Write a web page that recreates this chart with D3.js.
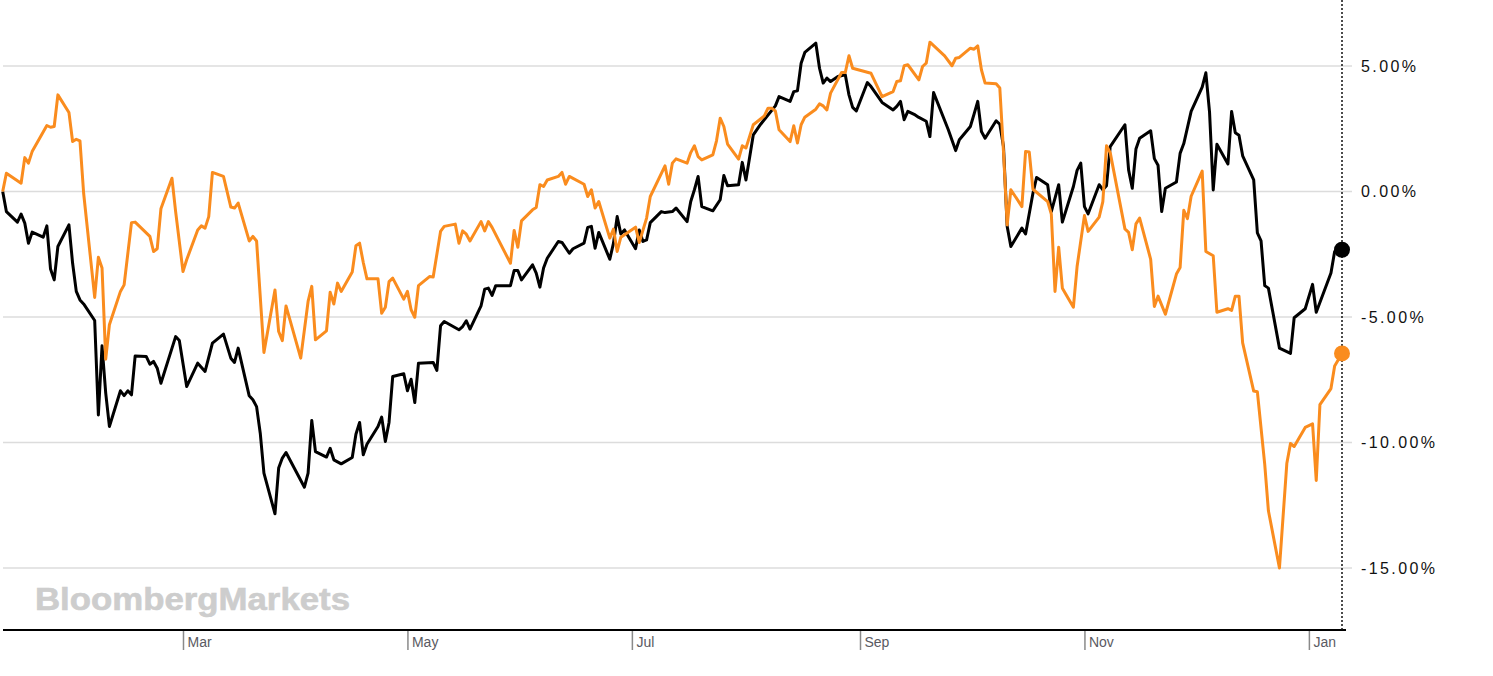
<!DOCTYPE html>
<html>
<head>
<meta charset="utf-8">
<script src="https://cdn.jsdelivr.net/npm/d3@7"></script>
<style>
  body { margin: 0; background: #fff; }
  svg { display: block; }
</style>
</head>
<body>
<svg id="chart"></svg>
<script>
// daily % change since start
const blackSeries = [
  ["2018-01-11",0],["2018-01-12",-0.8],["2018-01-15",-1.22],["2018-01-16",-0.9],["2018-01-17",-1.26],
  ["2018-01-18",-2.06],["2018-01-19",-1.62],["2018-01-22",-1.82],["2018-01-23",-1.37],["2018-01-24",-3.09],
  ["2018-01-25",-3.52],["2018-01-26",-2.19],["2018-01-29",-1.33],["2018-01-30",-2.86],["2018-01-31",-3.98],
  ["2018-02-01",-4.32],["2018-02-02",-4.48],["2018-02-05",-5.14],["2018-02-06",-8.9],["2018-02-07",-6.15],
  ["2018-02-08",-8.03],["2018-02-09",-9.36],["2018-02-12",-7.94],["2018-02-13",-8.13],["2018-02-14",-7.94],
  ["2018-02-15",-8.1],["2018-02-16",-6.55],["2018-02-19",-6.57],["2018-02-20",-6.88],["2018-02-21",-6.77],
  ["2018-02-22",-7.04],["2018-02-23",-7.64],["2018-02-27",-5.78],["2018-02-28",-5.94],["2018-03-02",-7.77],
  ["2018-03-05",-6.84],["2018-03-07",-7.17],["2018-03-09",-6.04],["2018-03-12",-5.68],["2018-03-14",-6.64],
  ["2018-03-15",-6.81],["2018-03-16",-6.24],["2018-03-19",-8.14],["2018-03-20",-8.3],["2018-03-21",-8.57],
  ["2018-03-22",-9.63],["2018-03-23",-11.22],["2018-03-26",-12.84],["2018-03-27",-11.02],["2018-03-28",-10.62],
  ["2018-03-29",-10.4],["2018-04-03",-11.78],["2018-04-04",-11.22],["2018-04-05",-9.12],["2018-04-06",-10.36],
  ["2018-04-09",-10.58],["2018-04-10",-10.23],["2018-04-11",-10.69],["2018-04-13",-10.85],["2018-04-16",-10.6],
  ["2018-04-17",-9.67],["2018-04-18",-9.2],["2018-04-19",-10.49],["2018-04-20",-10.07],["2018-04-23",-9.36],
  ["2018-04-24",-8.99],["2018-04-25",-9.96],["2018-04-26",-9.2],["2018-04-27",-7.37],["2018-04-30",-7.26],
  ["2018-05-01",-7.94],["2018-05-02",-7.48],["2018-05-03",-8.41],["2018-05-04",-6.84],["2018-05-08",-6.81],
  ["2018-05-09",-7.13],["2018-05-10",-5.35],["2018-05-11",-5.18],["2018-05-15",-5.51],["2018-05-16",-5.38],
  ["2018-05-17",-5.15],["2018-05-18",-5.48],["2018-05-21",-4.56],["2018-05-22",-3.89],["2018-05-23",-3.85],
  ["2018-05-24",-4.14],["2018-05-25",-3.75],["2018-05-29",-3.75],["2018-05-30",-3.15],["2018-05-31",-3.15],
  ["2018-06-01",-3.52],["2018-06-04",-2.92],["2018-06-05",-3.25],["2018-06-06",-3.81],["2018-06-07",-3.05],
  ["2018-06-08",-2.66],["2018-06-11",-1.99],["2018-06-12",-2.03],["2018-06-14",-2.46],["2018-06-15",-2.28],
  ["2018-06-18",-2.06],["2018-06-19",-1.43],["2018-06-20",-1.39],["2018-06-21",-2.26],["2018-06-22",-1.63],
  ["2018-06-25",-2.7],["2018-06-26",-2.06],["2018-06-27",-1.0],["2018-06-28",-1.69],["2018-06-29",-1.53],
  ["2018-07-02",-2.28],["2018-07-03",-1.53],["2018-07-04",-1.99],["2018-07-05",-1.93],["2018-07-06",-1.24],
  ["2018-07-09",-0.8],["2018-07-10",-0.84],["2018-07-12",-0.8],["2018-07-13",-0.66],["2018-07-16",-1.2],
  ["2018-07-17",-0.4],["2018-07-18",0.07],["2018-07-19",0.6],["2018-07-20",-0.6],["2018-07-23",-0.77],
  ["2018-07-25",-0.33],["2018-07-26",0.64],["2018-07-27",0.23],["2018-07-30",0.27],["2018-07-31",1.16],
  ["2018-08-01",0.46],["2018-08-03",2.26],["2018-08-05",2.68],["2018-08-07",3.05],["2018-08-09",3.41],
  ["2018-08-10",3.78],["2018-08-13",3.59],["2018-08-14",3.98],["2018-08-15",4.01],["2018-08-16",5.11],
  ["2018-08-17",5.54],["2018-08-20",5.91],["2018-08-21",4.91],["2018-08-22",4.32],["2018-08-23",4.52],
  ["2018-08-24",4.38],["2018-08-26",4.58],["2018-08-28",4.65],["2018-08-29",3.85],["2018-08-30",3.35],
  ["2018-08-31",3.21],["2018-09-03",4.34],["2018-09-04",4.18],["2018-09-07",3.55],["2018-09-10",3.25],
  ["2018-09-11",3.39],["2018-09-12",3.59],["2018-09-13",2.86],["2018-09-14",3.19],["2018-09-16",3.05],
  ["2018-09-17",2.95],["2018-09-19",2.8],["2018-09-20",2.19],["2018-09-21",3.94],["2018-09-25",2.46],
  ["2018-09-27",1.63],["2018-09-28",2.06],["2018-10-01",2.59],["2018-10-02",3.08],["2018-10-03",3.59],
  ["2018-10-04",2.39],["2018-10-05",2.12],["2018-10-08",2.82],["2018-10-09",2.68],["2018-10-10",1.79],
  ["2018-10-11",-1.39],["2018-10-12",-2.19],["2018-10-15",-1.46],["2018-10-16",-1.69],["2018-10-18",-0.07],
  ["2018-10-19",0.56],["2018-10-22",0.27],["2018-10-23",-0.8],["2018-10-25",0.27],["2018-10-26",-1.22],
  ["2018-10-29",0.2],["2018-10-30",0.84],["2018-10-31",1.13],["2018-11-01",-0.6],["2018-11-02",-0.89],
  ["2018-11-05",0.27],["2018-11-06",0.07],["2018-11-07",0.23],["2018-11-08",1.79],["2018-11-12",2.66],
  ["2018-11-13",0.86],["2018-11-14",0.13],["2018-11-15",1.69],["2018-11-16",2.12],["2018-11-19",2.42],
  ["2018-11-20",1.31],["2018-11-21",1.05],["2018-11-22",-0.8],["2018-11-23",0.13],["2018-11-26",0.38],
  ["2018-11-27",1.52],["2018-11-28",1.91],["2018-11-30",3.19],["2018-12-03",4.16],["2018-12-04",4.73],
  ["2018-12-05",3.16],["2018-12-06",0.06],["2018-12-07",1.88],["2018-12-10",1.1],["2018-12-11",3.19],
  ["2018-12-12",2.34],["2018-12-13",2.24],["2018-12-14",1.42],["2018-12-17",0.46],["2018-12-18",-1.65],
  ["2018-12-19",-1.97],["2018-12-20",-3.75],["2018-12-21",-3.85],["2018-12-24",-6.24],["2018-12-27",-6.45],
  ["2018-12-28",-5.03],["2018-12-31",-4.67],["2019-01-02",-3.7],["2019-01-03",-4.81],["2019-01-07",-3.25],
  ["2019-01-08",-2.39],["2019-01-10",-2.32]
];

const orangeSeries = [
  ["2018-01-11",0],["2018-01-12",0.73],["2018-01-16",0.33],["2018-01-17",1.35],["2018-01-18",1.13],
  ["2018-01-19",1.59],["2018-01-23",2.63],["2018-01-24",2.56],["2018-01-25",2.59],["2018-01-26",3.85],
  ["2018-01-29",3.15],["2018-01-30",1.99],["2018-01-31",2.08],["2018-02-01",2.02],["2018-02-02",-0.07],
  ["2018-02-05",-4.22],["2018-02-06",-2.62],["2018-02-07",-3.05],["2018-02-08",-6.68],["2018-02-09",-5.31],
  ["2018-02-12",-3.98],["2018-02-13",-3.72],["2018-02-15",-1.24],["2018-02-16",-1.22],["2018-02-20",-1.79],
  ["2018-02-21",-2.39],["2018-02-22",-2.28],["2018-02-23",-0.69],["2018-02-26",0.53],["2018-02-27",-0.8],
  ["2018-03-01",-3.19],["2018-03-02",-2.72],["2018-03-05",-1.53],["2018-03-06",-1.37],["2018-03-07",-1.46],
  ["2018-03-08",-1.0],["2018-03-09",0.76],["2018-03-12",0.6],["2018-03-14",-0.62],["2018-03-15",-0.66],
  ["2018-03-16",-0.46],["2018-03-19",-1.97],["2018-03-20",-1.79],["2018-03-21",-1.97],["2018-03-23",-6.41],
  ["2018-03-26",-3.92],["2018-03-27",-5.58],["2018-03-28",-5.94],["2018-03-29",-4.56],["2018-04-02",-6.64],
  ["2018-04-04",-4.38],["2018-04-05",-3.78],["2018-04-06",-5.91],["2018-04-09",-5.55],["2018-04-10",-4.01],
  ["2018-04-11",-4.48],["2018-04-12",-3.65],["2018-04-13",-3.98],["2018-04-16",-3.21],["2018-04-17",-2.16],
  ["2018-04-18",-2.06],["2018-04-19",-2.83],["2018-04-20",-3.48],["2018-04-23",-3.48],["2018-04-24",-4.85],
  ["2018-04-25",-4.61],["2018-04-26",-3.59],["2018-04-27",-3.45],["2018-04-30",-4.29],["2018-05-01",-3.98],
  ["2018-05-02",-4.71],["2018-05-03",-5.01],["2018-05-04",-3.75],["2018-05-07",-3.39],["2018-05-08",-3.41],
  ["2018-05-10",-1.59],["2018-05-11",-1.39],["2018-05-14",-1.3],["2018-05-15",-2.06],["2018-05-16",-1.57],
  ["2018-05-17",-1.7],["2018-05-18",-1.97],["2018-05-21",-1.2],["2018-05-22",-1.57],["2018-05-23",-1.2],
  ["2018-05-24",-1.43],["2018-05-29",-2.86],["2018-05-30",-1.55],["2018-05-31",-2.22],["2018-06-01",-1.17],
  ["2018-06-04",-0.73],["2018-06-05",-0.64],["2018-06-06",0.27],["2018-06-07",0.2],["2018-06-08",0.46],
  ["2018-06-11",0.6],["2018-06-12",0.76],["2018-06-13",0.29],["2018-06-14",0.6],["2018-06-18",0.29],
  ["2018-06-19",-0.2],["2018-06-20",0.07],["2018-06-21",-0.66],["2018-06-22",-0.4],["2018-06-25",-1.86],
  ["2018-06-26",-1.5],["2018-06-27",-2.39],["2018-06-28",-1.82],["2018-07-02",-1.42],["2018-07-03",-2.03],
  ["2018-07-05",-1.06],["2018-07-06",-0.2],["2018-07-10",1.02],["2018-07-11",0.29],["2018-07-12",1.13],
  ["2018-07-13",1.3],["2018-07-16",1.13],["2018-07-17",1.55],["2018-07-18",1.82],["2018-07-19",1.39],
  ["2018-07-20",1.26],["2018-07-23",1.46],["2018-07-24",2.02],["2018-07-25",2.92],["2018-07-26",2.59],
  ["2018-07-27",1.89],["2018-07-30",1.29],["2018-07-31",1.82],["2018-08-01",1.73],["2018-08-03",2.66],
  ["2018-08-06",3.01],["2018-08-07",3.32],["2018-08-08",3.32],["2018-08-09",3.21],["2018-08-10",2.46],
  ["2018-08-13",1.99],["2018-08-14",2.62],["2018-08-15",1.93],["2018-08-16",2.66],["2018-08-17",2.96],
  ["2018-08-20",3.28],["2018-08-21",3.49],["2018-08-22",3.41],["2018-08-23",3.25],["2018-08-24",3.92],
  ["2018-08-27",4.74],["2018-08-28",4.74],["2018-08-29",5.41],["2018-08-30",4.91],["2018-08-31",4.87],
  ["2018-09-04",4.71],["2018-09-07",3.78],["2018-09-10",3.98],["2018-09-11",4.38],["2018-09-12",4.41],
  ["2018-09-13",5.01],["2018-09-14",5.05],["2018-09-17",4.45],["2018-09-18",4.98],["2018-09-19",5.11],
  ["2018-09-20",5.95],["2018-09-24",5.4],["2018-09-26",5.01],["2018-09-27",5.31],["2018-09-28",5.34],
  ["2018-10-01",5.71],["2018-10-02",5.67],["2018-10-03",5.8],["2018-10-04",4.85],["2018-10-05",4.32],
  ["2018-10-08",4.29],["2018-10-09",4.12],["2018-10-10",1.59],["2018-10-11",-1.33],["2018-10-12",0.07],
  ["2018-10-15",-0.6],["2018-10-16",1.59],["2018-10-17",1.57],["2018-10-18",0.09],["2018-10-22",-0.4],
  ["2018-10-23",-0.9],["2018-10-24",-3.98],["2018-10-25",-2.22],["2018-10-26",-3.85],["2018-10-29",-4.61],
  ["2018-10-30",-2.99],["2018-11-01",-0.96],["2018-11-02",-1.59],["2018-11-05",-1.02],["2018-11-06",-0.4],
  ["2018-11-07",1.82],["2018-11-08",1.55],["2018-11-12",-1.49],["2018-11-13",-1.63],["2018-11-14",-2.32],
  ["2018-11-15",-1.29],["2018-11-16",-1.06],["2018-11-19",-2.7],["2018-11-20",-4.58],["2018-11-21",-4.17],
  ["2018-11-23",-4.89],["2018-11-26",-3.29],["2018-11-27",-3.03],["2018-11-28",-0.75],["2018-11-29",-1.08],
  ["2018-11-30",-0.19],["2018-12-03",0.81],["2018-12-04",-2.39],["2018-12-06",-2.56],["2018-12-07",-4.81],
  ["2018-12-10",-4.67],["2018-12-11",-4.74],["2018-12-12",-4.17],["2018-12-13",-4.17],["2018-12-14",-6.03],
  ["2018-12-17",-7.95],["2018-12-18",-7.98],["2018-12-20",-10.87],["2018-12-21",-12.72],["2018-12-24",-15.0],
  ["2018-12-26",-10.84],["2018-12-27",-10.04],["2018-12-28",-10.16],["2018-12-31",-9.4],["2019-01-02",-9.26],
  ["2019-01-03",-11.51],["2019-01-04",-8.49],["2019-01-07",-7.85],["2019-01-08",-6.95],["2019-01-10",-6.45]
];

const yTicks = [5, 0, -5, -10, -15];
const monthTicks = ["2018-03-01", "2018-05-01", "2018-07-01", "2018-09-01", "2018-11-01", "2019-01-01"];

const width = 1493;
const height = 676;
const parse = d3.timeParse("%Y-%m-%d");
const pct = d3.formatLocale({decimal: ".", thousands: ",", grouping: [3], currency: ["", ""], minus: "-"}).format(".2f");

const black = blackSeries.map(d => ({date: parse(d[0]), value: d[1]}));
const orange = orangeSeries.map(d => ({date: parse(d[0]), value: d[1]}));

const x = d3.scaleTime()
    .domain([parse("2018-01-11"), parse("2019-01-10")])
    .range([2.7, 1342]);
const y = d3.scaleLinear()
    .domain([-15, 5])
    .range([568, 66]);

const axisY = 630;

const svg = d3.select("#chart")
    .attr("width", width)
    .attr("height", height)
    .attr("font-family", "Arial, 'Liberation Sans', sans-serif");

// grid
svg.append("g")
    .selectAll("line")
    .data(yTicks)
    .join("line")
    .attr("x1", 3)
    .attr("x2", 1352)
    .attr("y1", d => y(d))
    .attr("y2", d => y(d))
    .attr("stroke", "#dcdcdc")
    .attr("stroke-width", 1.5);

// y labels on the right
svg.append("g")
    .selectAll("text")
    .data(yTicks)
    .join("text")
    .attr("x", 1361)
    .attr("y", d => y(d))
    .attr("dy", "0.36em")
    .attr("font-size", 16)
    .attr("letter-spacing", 2.4)
    .attr("fill", "#111")
    .text(d => pct(d) + "%");

// watermark
svg.append("text")
    .attr("x", 35)
    .attr("y", 610)
    .attr("font-size", 31)
    .attr("font-weight", "bold")
    .attr("fill", "#cdcdcd")
    .attr("stroke", "#cdcdcd")
    .attr("stroke-width", 0.6)
    .attr("textLength", 315)
    .attr("lengthAdjust", "spacingAndGlyphs")
    .text("BloombergMarkets");

// x axis
const xAxis = d3.axisBottom(x)
    .tickValues(monthTicks.map(parse))
    .tickFormat(d3.timeFormat("%b"))
    .tickSize(20)
    .tickSizeOuter(0);

const gx = svg.append("g")
    .attr("transform", `translate(0,${axisY})`)
    .call(xAxis);
gx.select(".domain").remove();
gx.selectAll(".tick line")
    .attr("stroke", "#8a8a8a")
    .attr("stroke-width", 1.5);
gx.selectAll(".tick text")
    .attr("x", 4)
    .attr("y", 12)
    .attr("dy", "0.35em")
    .attr("text-anchor", "start")
    .attr("font-size", 14)
    .attr("fill", "#5a5a62");

svg.append("line")
    .attr("x1", 3)
    .attr("x2", 1346)
    .attr("y1", axisY)
    .attr("y2", axisY)
    .attr("stroke", "#000")
    .attr("stroke-width", 2);

// dotted marker at the last date
const lastX = x(parse("2019-01-10"));
svg.append("line")
    .attr("x1", lastX)
    .attr("x2", lastX)
    .attr("y1", 0)
    .attr("y2", axisY)
    .attr("stroke", "#111")
    .attr("stroke-width", 1.5)
    .attr("stroke-dasharray", "2,2");

const line = d3.line()
    .x(d => x(d.date))
    .y(d => y(d.value));

svg.append("path")
    .datum(black)
    .attr("fill", "none")
    .attr("stroke", "#000")
    .attr("stroke-width", 3)
    .attr("stroke-linejoin", "round")
    .attr("d", line);

svg.append("path")
    .datum(orange)
    .attr("fill", "none")
    .attr("stroke", "#fa8c1e")
    .attr("stroke-width", 3)
    .attr("stroke-linejoin", "round")
    .attr("d", line);

// end dots
const ends = [
    {d: black[black.length - 1], color: "#000"},
    {d: orange[orange.length - 1], color: "#fa8c1e"}
];
svg.append("g")
    .selectAll("circle")
    .data(ends)
    .join("circle")
    .attr("cx", e => x(e.d.date))
    .attr("cy", e => y(e.d.value))
    .attr("r", 8)
    .attr("fill", e => e.color);
</script>
</body>
</html>
